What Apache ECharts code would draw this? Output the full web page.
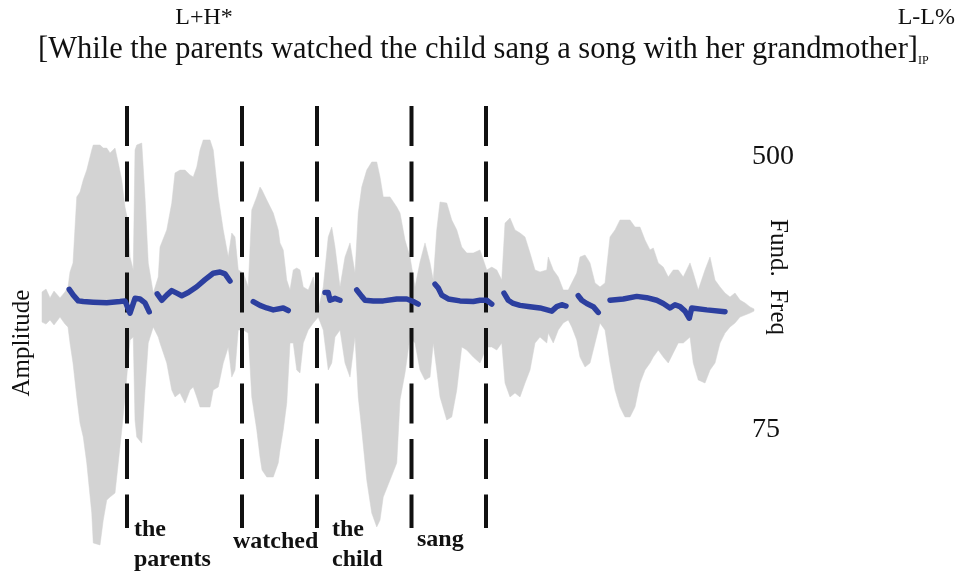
<!DOCTYPE html>
<html><head><meta charset="utf-8">
<script src="https://cdn.jsdelivr.net/npm/echarts@6/dist/echarts.min.js"></script>
<style>html,body{margin:0;padding:0;background:#fff}#c{width:961px;height:577px}</style>
</head><body><div id="c"></div><script>
// Waveform envelope (time in s, amplitude normalised)
const waveTime = [
 0.000,0.016,0.032,0.048,0.072,0.092,0.104,0.112,0.124,0.139,
 0.152,0.165,0.179,0.199,0.205,0.232,0.245,0.259,0.272,0.292,
 0.305,0.319,0.332,0.345,0.352,0.365,0.372,0.379,0.399,0.412,
 0.425,0.445,0.465,0.472,0.499,0.519,0.532,0.552,0.572,0.592,
 0.605,0.619,0.632,0.645,0.672,0.685,0.705,0.725,0.745,0.759,
 0.772,0.785,0.805,0.825,0.839,0.859,0.872,0.880,0.899,0.925,
 0.945,0.952,0.965,0.979,0.992,1.005,1.019,1.032,1.045,1.065,
 1.085,1.105,1.125,1.145,1.159,1.172,1.192,1.212,1.232,1.252,
 1.265,1.279,1.299,1.319,1.339,1.352,1.365,1.392,1.419,1.432,
 1.452,1.472,1.492,1.512,1.532,1.552,1.565,1.579,1.592,1.619,
 1.639,1.659,1.679,1.699,1.725,1.752,1.779,1.799,1.819,1.839,
 1.852,1.872,1.892,1.912,1.932,1.952,1.972,1.992,2.019,2.025,
 2.045,2.065,2.085,2.105,2.119,2.139,2.152,2.172,2.192,2.212,
 2.232,2.252,2.272,2.292,2.312,2.332,2.352,2.372,2.392,2.412,
 2.432,2.445,2.465,2.485,2.505,2.525,2.545,2.565,2.592,2.605,
 2.625,2.652,2.672,2.692,2.712,2.732,2.752,2.772,2.792,2.812,
 2.832,2.848];
const waveUpper = [
 0.082,0.095,0.055,0.086,0.055,0.082,0.105,0.173,0.214,0.514,
 0.536,0.591,0.636,0.727,0.750,0.750,0.736,0.736,0.714,0.736,
 0.668,0.591,0.468,0.395,0.241,0.182,0.727,0.750,0.759,0.514,
 0.214,0.077,0.150,0.286,0.364,0.486,0.623,0.636,0.636,0.614,
 0.605,0.650,0.727,0.773,0.773,0.727,0.514,0.364,0.241,0.350,
 0.332,0.182,0.168,0.105,0.455,0.514,0.559,0.545,0.500,0.441,
 0.364,0.305,0.273,0.136,0.091,0.182,0.191,0.182,0.105,0.091,
 0.150,0.000,0.105,0.332,0.377,0.286,0.105,0.241,0.305,0.168,
 0.441,0.559,0.636,0.673,0.673,0.605,0.514,0.514,0.468,0.441,
 0.318,0.241,0.105,0.218,0.305,0.214,0.136,0.364,0.491,0.486,
 0.409,0.364,0.286,0.259,0.259,0.273,0.182,0.195,0.182,0.136,
 0.395,0.418,0.364,0.350,0.332,0.259,0.182,0.173,0.182,0.241,
 0.182,0.150,0.091,0.091,0.123,0.168,0.241,0.250,0.214,0.123,
 0.105,0.123,0.332,0.364,0.409,0.409,0.409,0.377,0.377,0.318,
 0.273,0.282,0.214,0.195,0.150,0.182,0.182,0.150,0.214,0.168,
 0.091,0.182,0.241,0.136,0.105,0.077,0.059,0.077,0.045,0.032,
 0.014,0.005];
const waveLower = [
 -0.055,-0.064,-0.045,-0.068,-0.032,-0.064,-0.077,-0.150,-0.241,-0.395,
 -0.514,-0.577,-0.695,-0.923,-1.059,-1.068,-0.955,-0.864,-0.850,-0.832,
 -0.695,-0.545,-0.395,-0.227,-0.136,-0.123,-0.500,-0.577,-0.605,-0.364,
 -0.150,-0.077,-0.123,-0.150,-0.241,-0.364,-0.395,-0.377,-0.423,-0.364,
 -0.350,-0.395,-0.441,-0.441,-0.441,-0.364,-0.350,-0.241,-0.168,-0.305,
 -0.273,-0.091,-0.091,-0.105,-0.395,-0.545,-0.668,-0.727,-0.759,-0.759,
 -0.695,-0.636,-0.545,-0.423,-0.150,-0.150,-0.273,-0.286,-0.150,-0.091,
 -0.059,-0.032,-0.091,-0.273,-0.241,-0.123,-0.091,-0.241,-0.305,-0.123,
 -0.395,-0.545,-0.773,-0.923,-0.986,-0.955,-0.850,-0.773,-0.695,-0.409,
 -0.286,-0.123,-0.150,-0.273,-0.318,-0.305,-0.150,-0.273,-0.395,-0.500,
 -0.486,-0.364,-0.168,-0.182,-0.214,-0.241,-0.168,-0.168,-0.182,-0.150,
 -0.332,-0.395,-0.377,-0.395,-0.332,-0.273,-0.150,-0.123,-0.150,-0.105,
 -0.150,-0.091,-0.059,-0.045,-0.077,-0.136,-0.214,-0.259,-0.241,-0.150,
 -0.059,-0.091,-0.241,-0.364,-0.441,-0.486,-0.486,-0.441,-0.332,-0.273,
 -0.241,-0.214,-0.182,-0.214,-0.241,-0.195,-0.150,-0.150,-0.123,-0.241,
 -0.318,-0.332,-0.273,-0.241,-0.150,-0.105,-0.077,-0.059,-0.032,-0.023,
 -0.014,-0.005];

// Pitch track (Hz); null marks an unvoiced gap
const pitchTime = [
 0.109,0.125,0.145,0.165,0.205,0.259,0.312,0.332,0.352,0.372,0.392,0.412,0.429, null,
 0.461,0.479,0.499,0.519,0.539,0.559,0.585,0.619,0.652,0.685,0.712,0.732,0.752, null,
 0.845,0.872,0.899,0.925,0.965,0.985, null,
 1.132,1.145,1.152,1.172,1.192, null,
 1.259,1.279,1.292,1.325,1.365,1.419,1.459,1.485,1.505, null,
 1.572,1.585,1.599,1.625,1.672,1.725,1.752,1.779,1.799, null,
 1.848,1.865,1.885,1.912,1.952,1.992,2.039,2.059,2.079,2.096, null,
 2.145,2.159,2.179,2.205,2.225, null,
 2.272,2.325,2.379,2.419,2.459,2.485,2.512,2.532,2.552,2.572,2.589,2.599,2.659,2.732];
const pitchHz = [
 294,285,276,275,274,273,275,276,257,280,279,273,259, null,
 287,277,285,292,288,284,289,298,309,319,321,318,307, null,
 275,269,265,262,265,261, null,
 289,289,277,280,277, null,
 293,283,277,276,276,279,279,275,271, null,
 302,296,285,279,276,275,277,277,271, null,
 288,277,272,269,267,265,260,267,270,268, null,
 284,277,272,267,258, null,
 277,279,283,281,277,272,265,270,267,260,249,265,262,259];

const pitchTicks = [75, 500];
const boundaries = [0.340, 0.800, 1.100, 1.478, 1.776];
const wordLabels = ['the', 'parents', 'watched', 'the', 'child', 'sang'];
const titleText = '[While the parents watched the child sang a song with her grandmother]';
const titleSub = 'IP';
const accentStart = 'L+H*';
const accentEnd = 'L-L%';
const pitchName = 'Fund.  Freq';
const ampName = 'Amplitude';

const SERIF = '"Liberation Serif", "Times New Roman", serif';
const X_MAX = 2.86;
const GRID_L = 42, GRID_R = 204;

// split pitch into voiced segments
const segs = [];
let cur = [];
pitchTime.forEach((t, i) => {
  if (t === null) { if (cur.length) segs.push(cur); cur = []; }
  else cur.push([t, pitchHz[i]]);
});
if (cur.length) segs.push(cur);

const waveData = waveTime.map((t, i) => [t, waveUpper[i], waveLower[i]]);

const series = [];
series.push({
  type: 'custom', xAxisIndex: 0, yAxisIndex: 0, silent: true, z: 1,
  data: waveData,
  encode: { x: 0, y: [1, 2] },
  renderItem: function (params, api) {
    if (params.dataIndex !== 0) return null;
    const top = waveData.map(d => api.coord([d[0], d[1]]));
    const bot = waveData.slice().reverse().map(d => api.coord([d[0], d[2]]));
    return {
      type: 'polygon',
      shape: { points: top.concat(bot) },
      style: { fill: '#d3d3d3', stroke: '#d3d3d3', lineWidth: 0.5 }
    };
  }
});
boundaries.forEach(b => {
  series.push({
    type: 'line', xAxisIndex: 2, yAxisIndex: 2,
    data: [[b, 1], [b, 0]], symbol: 'none', silent: true, z: 2,
    lineStyle: { color: '#111', width: 4, type: [40, 15.5], cap: 'butt' }
  });
});
segs.forEach(s => {
  series.push({
    type: 'line', xAxisIndex: 1, yAxisIndex: 1, data: s, symbol: 'none', silent: true, z: 3,
    lineStyle: { color: '#2c3f9f', width: 5.5, cap: 'round', join: 'round' }
  });
});

const xa = i => ({ type: 'value', gridIndex: i, min: 0, max: X_MAX, show: false });
const txt = (text, x, y, font, opts) => Object.assign({
  type: 'text', x: x, y: y, silent: true,
  style: Object.assign({ text: text, font: font, fill: '#111',
    textAlign: 'left', align: 'left', textVerticalAlign: 'middle', verticalAlign: 'middle' }, opts && opts.style || {})
}, opts && opts.el || {});
const F = s => s + 'px ' + SERIF;
const FB = s => 'bold ' + s + 'px ' + SERIF;
const C = { style: { textAlign: 'center', align: 'center' } };

const chart = echarts.init(document.getElementById('c'), null, { renderer: 'canvas' });
chart.setOption({
  backgroundColor: '#fff',
  animation: false,
  grid: [
    { left: GRID_L, right: GRID_R, top: 68, bottom: 25 },
    { left: GRID_L, right: GRID_R, top: 157, bottom: 147 },
    { left: GRID_L, right: GRID_R, top: 106, bottom: 49 }
  ],
  xAxis: [xa(0), xa(1), xa(2)],
  yAxis: [
    { type: 'value', gridIndex: 0, min: -1.1, max: 1.1, show: false },
    { type: 'value', gridIndex: 1, min: 75, max: 500, position: 'right',
      axisLine: { show: false }, axisTick: { show: false }, splitLine: { show: false },
      axisLabel: { customValues: pitchTicks, margin: -5, color: '#111',
        fontFamily: SERIF, fontSize: 28, align: 'left' } },
    { type: 'value', gridIndex: 2, min: 0, max: 1, show: false }
  ],
  series: series,
  graphic: [
    txt(accentStart, 204, 18, F(24), C),
    txt(accentEnd, 955, 18, F(24), { style: { textAlign: 'right', align: 'right' } }),
    txt(titleText, 38, 50, F(30.5)),
    txt(titleSub, 918, 61, F(12)),
    txt(pitchName, 778, 277, F(25), { style: C.style, el: { rotation: -Math.PI / 2 } }),
    txt(ampName, 22, 343, F(25), { style: C.style, el: { rotation: Math.PI / 2 } }),
    txt(wordLabels[0], 134, 530, FB(24)),
    txt(wordLabels[1], 134, 560, FB(24)),
    txt(wordLabels[2], 233, 542, FB(24)),
    txt(wordLabels[3], 332, 530, FB(24)),
    txt(wordLabels[4], 332, 560, FB(24)),
    txt(wordLabels[5], 417, 540, FB(24))
  ]
});
</script></body></html>
